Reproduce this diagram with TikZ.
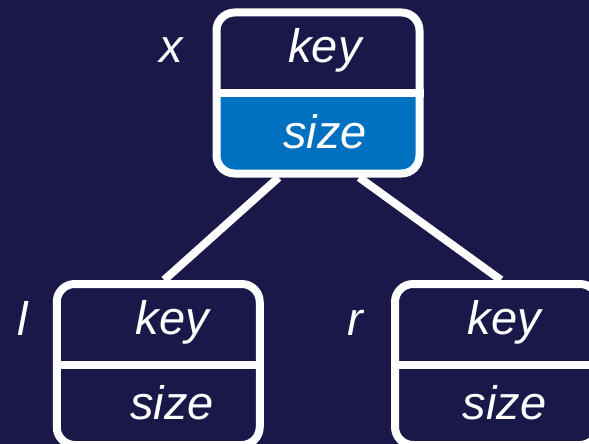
\documentclass[tikz,border=0pt]{standalone}
\usepackage{fontspec}
\setmainfont{Liberation Sans}
\usetikzlibrary{backgrounds}
\definecolor{navy}{RGB}{26,24,72}
\definecolor{fieldblue}{RGB}{0,112,192}
\tikzset{
  treenode/.style={draw=white,line width=8pt,rounded corners=18pt,minimum width=203pt,minimum height=161pt,inner sep=0pt},
  field/.style={text=white,font=\fontsize{47}{56}\selectfont\itshape,anchor=base,inner sep=0pt},
  branch/.style={draw=white,line width=8pt}
}
\begin{document}
\begin{tikzpicture}[x=1pt,y=-1pt]
\useasboundingbox (0,0) rectangle (589,444);
%tree nodes
\node[treenode] (x) at (318,93) {};
\node[treenode,fill=navy] (l) at (158.25,364.5) {};
\node[treenode,fill=navy] (r) at (496.5,364.5) {};
%dividers
\foreach \n in {x,l,r}{
\draw[draw=white,line width=8pt](\n.west)--(\n.east);
}
%fields
\foreach \n/\dx in {x/7,l/14,r/8}{
\node[field] (\n key) at ([xshift=\dx pt,yshift=30pt]\n.center) {key};
\node[field] (\n size) at ([xshift=\dx pt,yshift=-55pt]\n.center) {size};
}
%names
\node[field] (xname) at (171,63) {x};
\node[field] (lname) at (23,335) {l};
\node[field] (rname) at (355,335) {r};
%background, branches, blue field
\begin{scope}[on background layer]
\fill[navy](0,0)rectangle(589,444);
\draw[branch](x.245.3)--(l.86.6);
\draw[branch](x.-64.1)--(r.87.5);
\begin{scope}
\clip(x.west)rectangle(x.south east);
\fill[fieldblue,rounded corners=15pt]([shift={(3pt,-3pt)}]x.north west)rectangle([shift={(-3pt,3pt)}]x.south east);
\end{scope}
\end{scope}
\end{tikzpicture}
\end{document}
